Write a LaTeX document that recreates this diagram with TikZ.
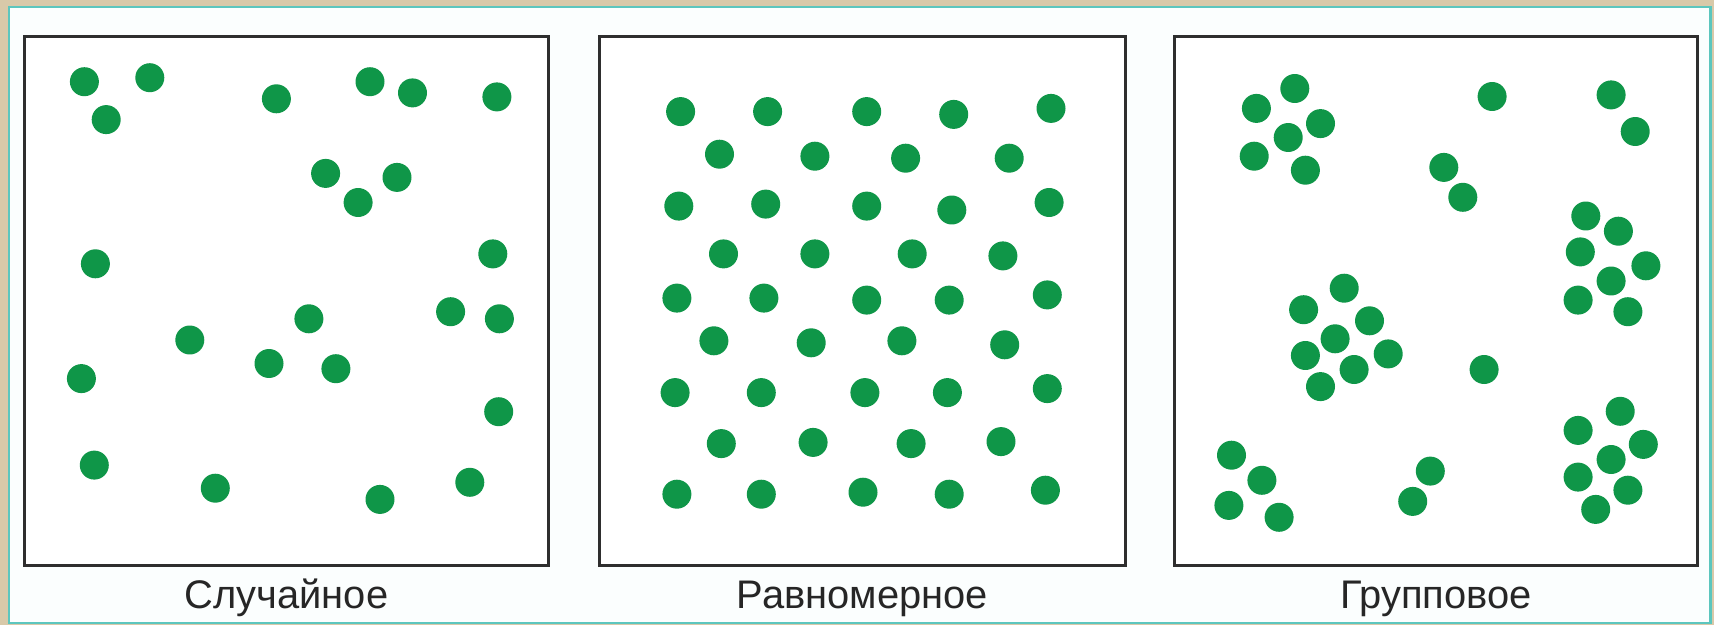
\documentclass[tikz,border=0pt]{standalone}
\usepackage{fontspec}
\setmainfont{Liberation Sans}
\definecolor{beige}{HTML}{D8C9A9}
\definecolor{teal}{HTML}{5CC6BE}
\definecolor{inner}{HTML}{FBFEFE}
\definecolor{dotgreen}{HTML}{0F9648}
\definecolor{boxline}{HTML}{2E2E2E}
\tikzset{
  dot/.style={circle,fill=dotgreen,draw=none,inner sep=0pt,minimum size=0.58cm},
  panel/.style={draw=boxline,line width=1.7pt,fill=white},
  caption/.style={anchor=base,font=\fontsize{22.7}{27}\selectfont,text=black!85,inner sep=0pt}
}
\begin{document}
\begin{tikzpicture}[x=0.02cm,y=-0.02cm]
\useasboundingbox (0,0) rectangle (1714,625);
\fill[beige] (0,0) rectangle (1714,625);
\filldraw[fill=inner,draw=teal,line width=1.7pt] (9,7) rectangle (1710,623);
% panels
\node[panel,minimum width=10.5cm,minimum height=10.6cm,inner sep=0pt] (p1) at (286.5,301) {};
\node[panel,minimum width=10.54cm,minimum height=10.6cm,inner sep=0pt] (p2) at (862.5,301) {};
\node[panel,minimum width=10.48cm,minimum height=10.6cm,inner sep=0pt] (p3) at (1436,301) {};
\node[caption] (c1) at (286.5,608) {Случайное};
\node[caption] (c2) at (862.5,608) {Равномерное};
\node[caption] (c3) at (1436,608) {Групповое};
% random
\foreach \x/\y [count=\i] in {84.4/81.7,149.8/77.7,106.2/119.6,276.4/98.8,370/81.7,412.5/92.9,496.9/96.9,325.6/173.4,397/177.4,358.1/202.5,95.4/263.8,492.8/253.9,308.9/318.8,450.6/311.7,499.4/318.8,189.8/340,269/363.5,335.9/368.7,81.4/378.6,498.7/411.7,94.3/465.1,215.3/488.2,380/499.4,469.8/482.3}
  \node[dot] (a\i) at (\x,\y) {};
% uniform
\foreach \x/\y [count=\i] in {680.6/111.6,767.6/111.6,866.7/111.6,953.7/114.4,1051/108.4,
  719.5/154.2,814.9/156.2,905.6/158.2,1009.2/158.2,
  678.8/206.1,765.7/204.1,866.7/206.1,951.8/210,1049.1/202.5,
  723.5/253.9,814.9/253.9,912.2/253.9,1002.9/255.9,
  676.9/298.1,763.9/298.1,866.7/300.1,949.2/300.1,1047.3/294.9,
  713.9/340.8,811.2/342.8,901.9/340.8,1004.7/344.8,
  675.1/392.6,761.3/392.6,864.9/392.6,947.4/392.6,1047.3/388.6,
  721.3/443.6,813.1/442.4,911.1/443.6,1001/441.6,
  676.9/494.2,761.3/494.2,863/492.2,949.2/494.2,1045.4/490.2}
  \node[dot] (b\i) at (\x,\y) {};
% grouped
\foreach \x/\y [count=\i] in {1256.4/108.4,1294.8/88.5,1320.5/123.6,1288.2/137.5,1254.2/156.2,1305.4/170.2,
  1492.1/96.5,1611.1/94.9,1635.2/131.5,1443.8/167.4,1462.8/197.3,
  1585.8/216,1618.4/231.2,1580.3/251.9,1645.9/265.8,1611.1/281,1578.1/300.1,1627.9/311.7,
  1344.2/288.2,1303.6/309.7,1369.5/320.8,1335.1/338.8,1305.4/355.5,1388.2/353.9,1354.1/369.5,1320.5/386.6,
  1484.1/369.5,
  1620.2/411.3,1578.1/430.4,1643.3/444.4,1611.1/459.5,1578.1/477.1,1627.9/490.2,1595.7/509.4,
  1231.5/455.2,1261.9/480.3,1228.9/505.4,1279.1/517.3,
  1430.3/471.1,1412.7/501.4}
  \node[dot] (g\i) at (\x,\y) {};
\end{tikzpicture}
\end{document}
